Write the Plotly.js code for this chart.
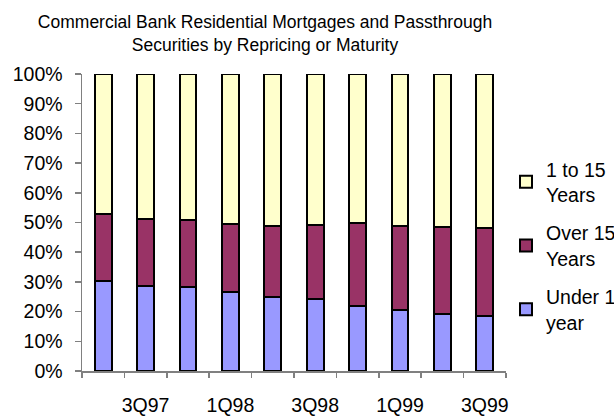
<!DOCTYPE html>
<html>
<head>
<meta charset="utf-8">
<script src="https://cdn.plot.ly/plotly-3.0.1.min.js"></script>
<style>html,body{margin:0;padding:0;background:#fff;}#chart{width:614px;height:416px;}</style>
</head>
<body>
<div id="chart"></div>
<script>
const quarters = ['2Q97','3Q97','4Q97','1Q98','2Q98','3Q98','4Q98','1Q99','2Q99','3Q99'];
const tickLabels = ['', '3Q97', '', '1Q98', '', '3Q98', '', '1Q99', '', '3Q99'];
const under1 = [30.4, 28.7, 28.3, 26.5, 25.0, 24.1, 22.0, 20.4, 19.2, 18.6];
const over15 = [22.4, 22.5, 22.6, 23.1, 23.7, 25.2, 28.0, 28.3, 29.4, 29.5];
const oneTo15 = [47.2, 48.8, 49.1, 50.4, 51.3, 50.7, 50.0, 51.3, 51.4, 51.9];

const font = {family: 'Liberation Sans, Arial, sans-serif', color: '#000'};
const mk = (c) => ({color: c, line: {color: '#000', width: 2}});

const data = [
  {type: 'bar', name: 'Under 1<br>year', legendgroup: 'a', legendrank: 3, x: quarters, y: under1, marker: mk('#9999FF')},
  {type: 'bar', name: 'Over 15<br>Years', legendgroup: 'b', legendrank: 2, x: quarters, y: over15, marker: mk('#993366')},
  {type: 'bar', name: '1 to 15<br>Years', legendgroup: 'c', legendrank: 1, x: quarters, y: oneTo15, marker: mk('#FFFFCC')}
];

const layout = {
  width: 614, height: 416,
  margin: {l: 82, r: 108, t: 74, b: 45},
  paper_bgcolor: '#fff', plot_bgcolor: '#fff',
  font: Object.assign({size: 19}, font),
  barmode: 'stack', bargap: 0.6,
  showlegend: true,
  title: {text: 'Commercial Bank Residential Mortgages and Passthrough<br>Securities by Repricing or Maturity',
    font: Object.assign({}, font, {size: 17.5}), x: 265/614, xanchor: 'center', xref: 'container',
    y: 1 - 28/416, yanchor: 'top', yref: 'container'},
  xaxis: {type: 'category', tickmode: 'array', tickvals: quarters, ticktext: tickLabels,
    tickson: 'boundaries', ticks: 'outside', ticklen: 5, tickwidth: 1.5, tickcolor: '#808080',
    showline: true, linecolor: '#808080', linewidth: 1.5, showgrid: false, zeroline: false,
    tickangle: 0, ticklabelstandoff: 16, tickfont: Object.assign({}, font, {size: 19.5}), fixedrange: true},
  yaxis: {range: [0, 100], dtick: 10, tick0: 0, ticksuffix: '%', ticks: 'outside', ticklen: 6,
    tickwidth: 1.5, tickcolor: '#808080', showline: true, linecolor: '#808080', linewidth: 1.5,
    showgrid: false, zeroline: false, ticklabelstandoff: 8,
    tickfont: Object.assign({}, font, {size: 19.5}), fixedrange: true},
  legend: {traceorder: 'grouped', xref: 'container', yref: 'container', x: 506/614, xanchor: 'left',
    y: 1 - 150/416, yanchor: 'top', font: Object.assign({}, font, {size: 19.5}),
    bgcolor: 'rgba(0,0,0,0)', itemwidth: 30, tracegroupgap: 10}
};

Plotly.newPlot('chart', data, layout, {displayModeBar: false, staticPlot: true});
</script>
</body>
</html>
